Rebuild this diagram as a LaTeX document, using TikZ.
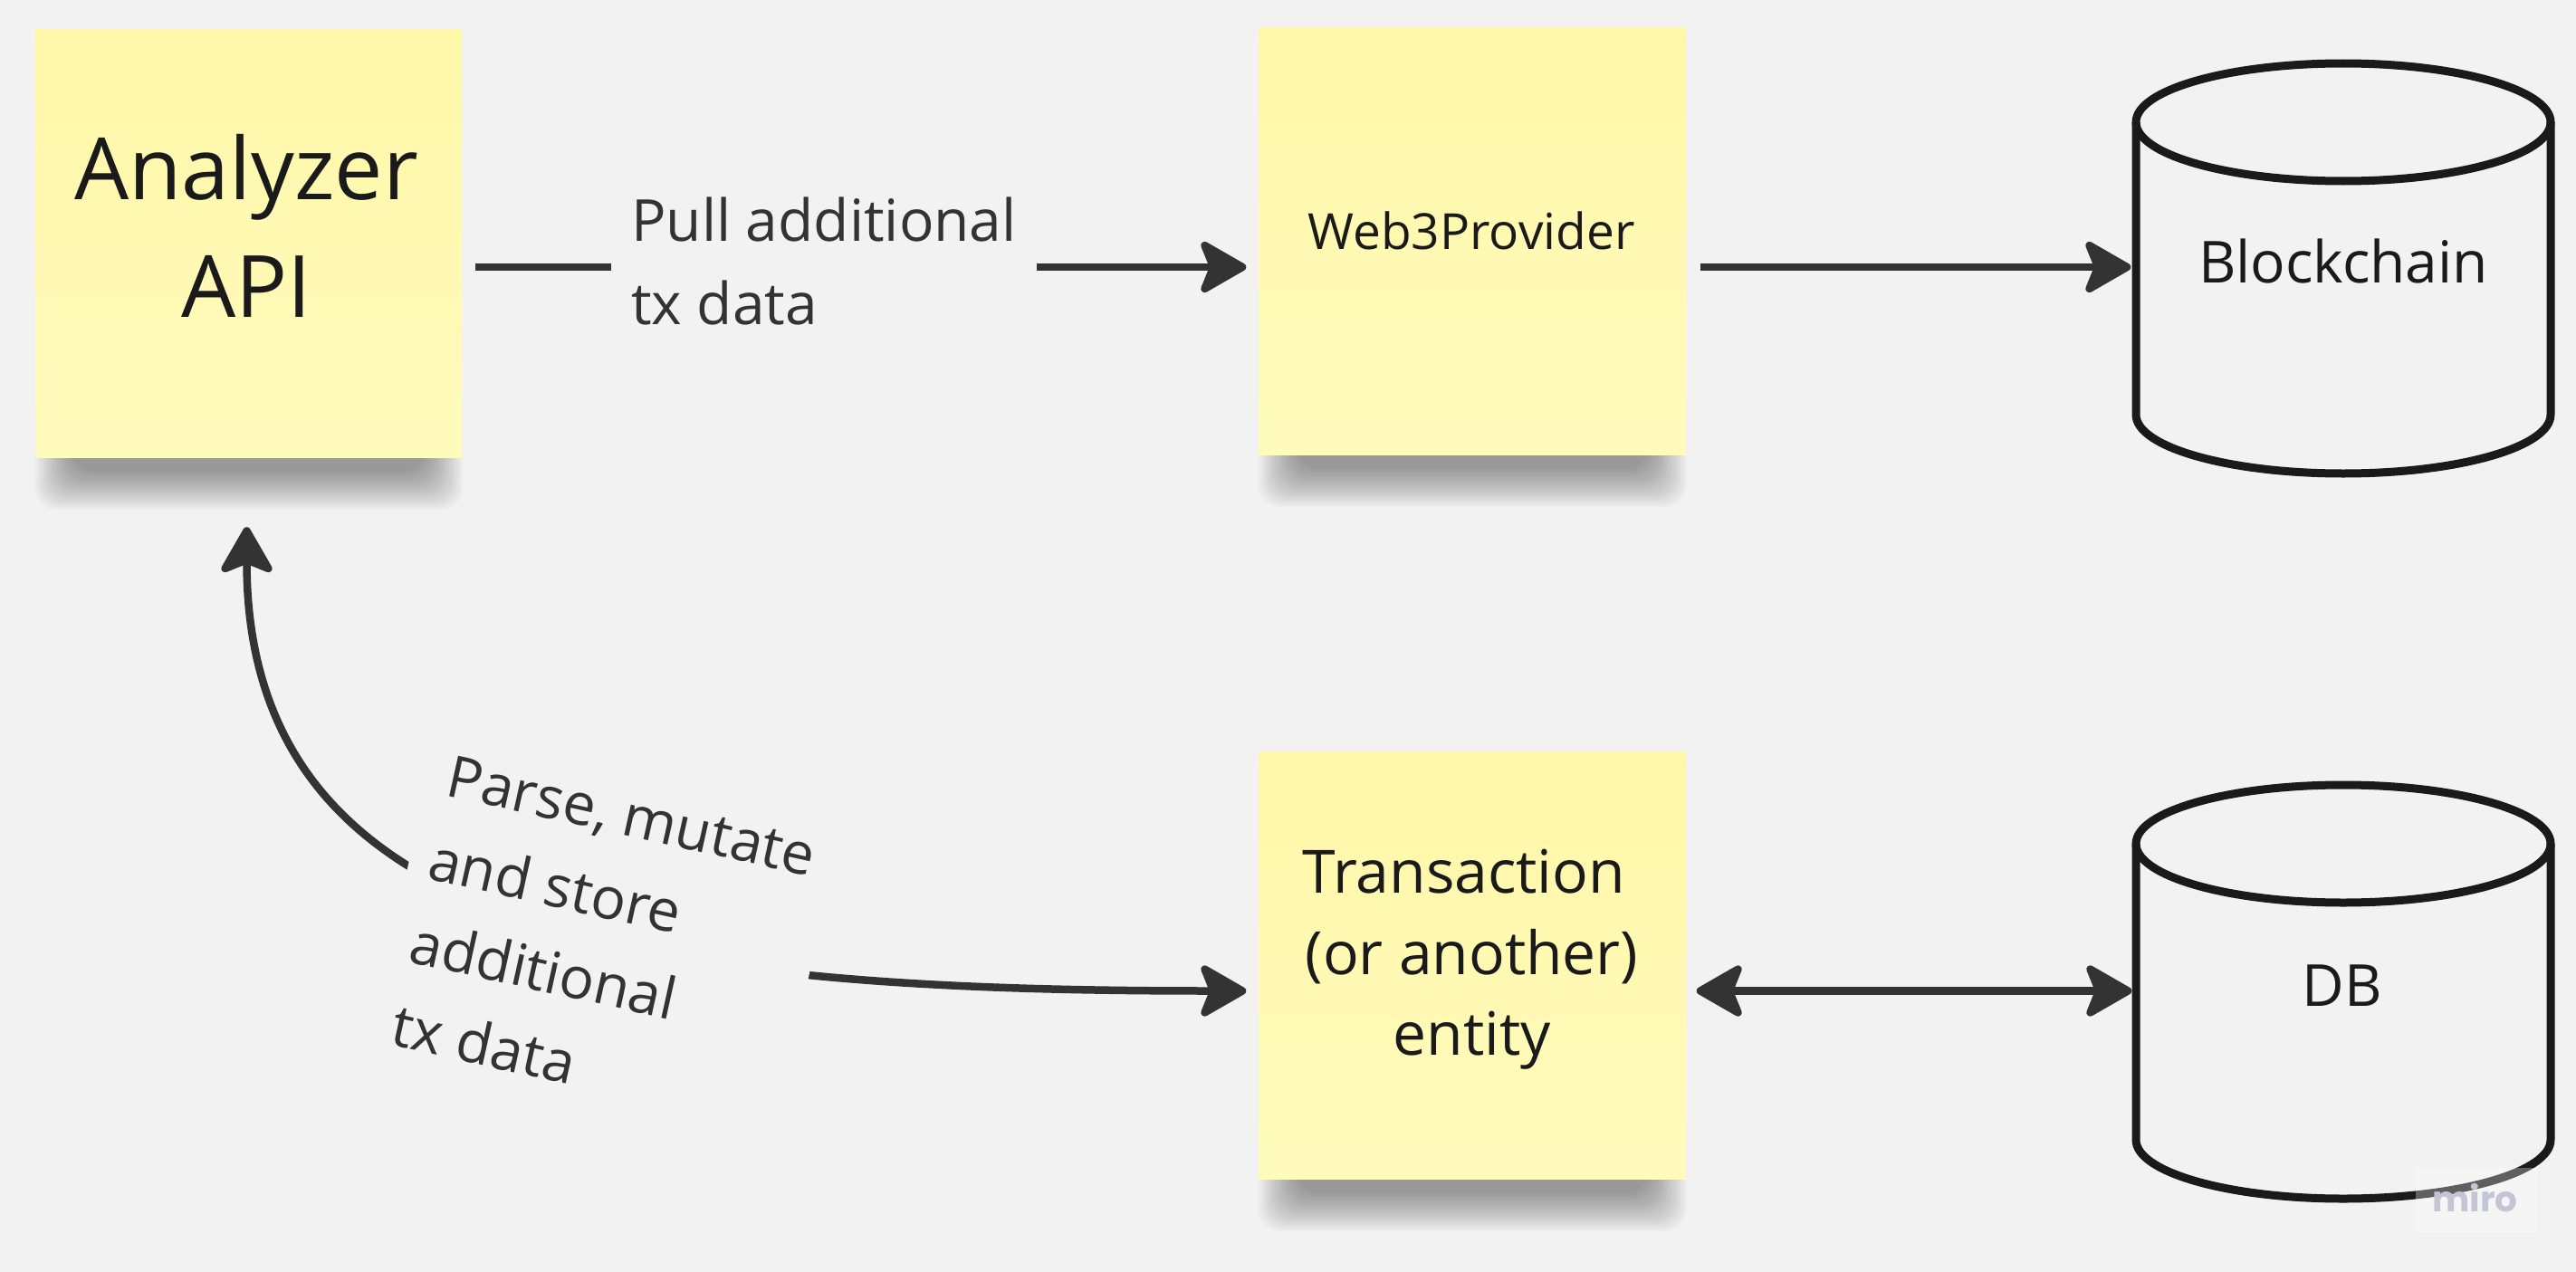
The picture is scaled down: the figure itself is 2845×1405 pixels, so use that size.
\documentclass[tikz,border=0pt]{standalone}
\usepackage{fontspec}
\setmainfont{Open Sans}
\newfontfamily\mirofont{Poppins}
\usetikzlibrary{arrows.meta,calc}
\definecolor{bgc}{HTML}{F2F2F2}
\definecolor{stickytop}{HTML}{FFF7A8}
\definecolor{stickybot}{HTML}{FFFBBD}
\definecolor{conncol}{HTML}{333333}
\definecolor{cylcol}{HTML}{1A1A1A}
\definecolor{inkcol}{HTML}{1A1A1A}
\definecolor{mirocol}{HTML}{C4C5D4}
\newcommand{\stickshadow}[3]{%
  \foreach \i in {0,...,14}{%
    \fill[black,opacity=0.026,rounded corners=24pt] (#1-#3+\i*3,#2-80+\i*2) rectangle (#1+#3-\i*3,#2+58-\i*3);
  }}
\begin{document}
\begin{tikzpicture}[x=1pt,y=-1pt,
  sticky/.style={rectangle,minimum width=471pt,minimum height=472pt,inner sep=0pt,top color=stickytop,bottom color=stickybot,draw=none},
  miroarrow/.tip={Stealth[length=58pt,width=66pt,inset=13pt,round]},
  conn/.style={draw=conncol,line width=8.5pt},
  cyl/.style={draw=cylcol,line width=9pt,line join=round},
  ink/.style={text=inkcol,inner sep=0pt},
  lbl/.style={text=conncol,fill=bgc,inner xsep=22pt,inner ysep=6pt,align=left,anchor=north west}]
\fill[bgc] (0,0) rectangle (2845,1405);
\useasboundingbox (0,0) rectangle (2845,1405);
% shadows
\stickshadow{274.5}{505}{236}
\stickshadow{1626}{502}{236}
\stickshadow{1626}{1302}{236}
% sticky notes
\node[sticky] (api) at (274.5,269) {};
\node[sticky] (web3) at (1626,266.5) {};
\node[sticky] (tx) at (1626,1066.5) {};
% cylinders
\node[minimum width=467pt,minimum height=462pt,inner sep=0pt] (chain) at (2588,296.5) {};
\node[minimum width=467pt,minimum height=466pt,inner sep=0pt] (db) at (2588,1095.5) {};
\draw[cyl] (2588,135) ellipse[x radius=229pt,y radius=65pt];
\draw[cyl] (2359,135) -- (2359,458) .. controls (2359,493.9) and (2461.5,523) .. (2588,523) .. controls (2714.5,523) and (2817,493.9) .. (2817,458) -- (2817,135);
\draw[cyl] (2588,932) ellipse[x radius=229pt,y radius=65pt];
\draw[cyl] (2359,932) -- (2359,1259) .. controls (2359,1294.9) and (2461.5,1324) .. (2588,1324) .. controls (2714.5,1324) and (2817,1294.9) .. (2817,1259) -- (2817,932);
% connectors
\draw[conn,-{miroarrow}] ($(api.east)+(15,26)$) -- ($(web3.west)+(-14,28.5)$);
\draw[conn,-{miroarrow}] ($(web3.east)+(16,28.5)$) -- ($(chain.west)+(-1,-1.5)$);
\draw[conn,{miroarrow}-{miroarrow}] ($(tx.east)+(12,28)$) -- ($(db.west)+(0,-1)$);
\draw[conn,{miroarrow}-{miroarrow}] ($(api.south)+(-2,77)$) .. controls (272.5,1030) and (700,1094.5) .. ($(tx.west)+(-14,28)$);
% connector labels
\node[lbl,font=\fontsize{64}{92}\selectfont] (pull) at (675,211.4) {Pull additional\\tx data};
\node[lbl,rotate=-12.5,font=\fontsize{64}{94}\selectfont] (parse) at (480,823) {Parse, mutate\\and store\\additional\\tx data};
% texts
\node[ink,anchor=north,align=center,font=\fontsize{95}{130}\selectfont] (apitext) at (272,148) {Analyzer\\API};
\node[ink,anchor=base,font=\fontsize{55}{66}\selectfont] (web3text) at (1625,275) {Web3Provider};
\node[ink,anchor=north,align=center,font=\fontsize{66}{89.5}\selectfont] (txtext) at (1625.5,938) {Transaction\hspace*{0.26em}\\(or another)\\entity};
\node[ink,anchor=base,font=\fontsize{64}{77}\selectfont] (chaintext) at (2588,312) {Blockchain};
\node[ink,anchor=base,font=\fontsize{64}{77}\selectfont] (dbtext) at (2587,1111) {DB};
% watermark
\node[fill=white,fill opacity=0.3,minimum width=134pt,minimum height=72pt,inner sep=0pt] (wm) at (2735,1326) {};
\node[text=mirocol,anchor=base,inner sep=0pt,font=\mirofont\bfseries\fontsize{39}{47}\selectfont] (mirotext) at (2733.5,1338) {miro};
\end{tikzpicture}
\end{document}
